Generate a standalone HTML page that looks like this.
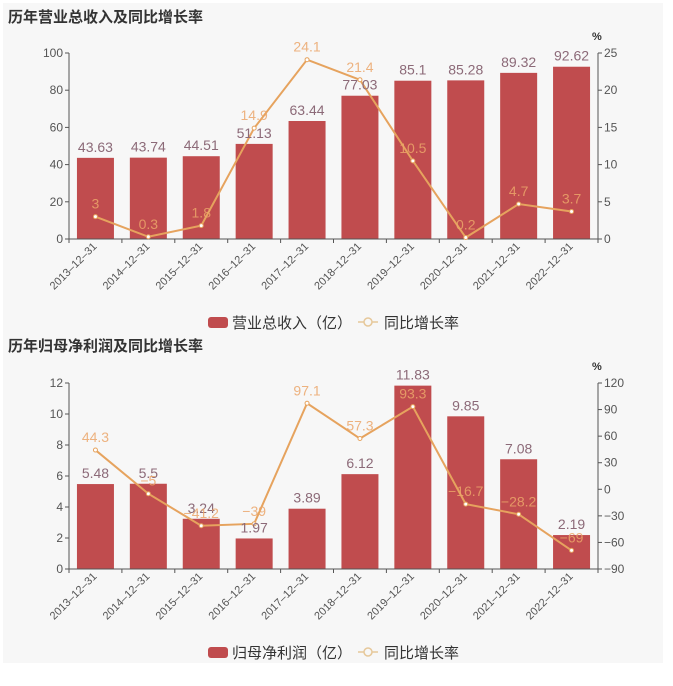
<!DOCTYPE html>
<html><head><meta charset="utf-8"><style>
html,body{margin:0;padding:0;background:#fff;width:673px;height:686px;overflow:hidden}
svg{display:block;font-family:"Liberation Sans","Noto Sans CJK SC",sans-serif}
</style></head><body>
<svg id="s" width="673" height="686" xmlns="http://www.w3.org/2000/svg">
<rect x="3" y="3" width="660" height="660" fill="#f7f7f7"/>
<text x="8" y="22" font-size="15" font-weight="bold" fill="#333">历年营业总收入及同比增长率</text>
<text x="8" y="351" font-size="15" font-weight="bold" fill="#333">历年归母净利润及同比增长率</text>
</svg>
<script>
var s=document.getElementById('s'),NS='http://www.w3.org/2000/svg';
function el(t,a,txt){var e=document.createElementNS(NS,t);for(var k in a)e.setAttribute(k,a[k]);if(txt!==undefined)e.textContent=txt;s.appendChild(e);return e;}
var cats=['2013-12-31','2014-12-31','2015-12-31','2016-12-31','2017-12-31','2018-12-31','2019-12-31','2020-12-31','2021-12-31','2022-12-31'];
var L=69,R=598,W=(R-L)/10;
function chart(o){
 var y0=o.y0,yt=o.yt,h=y0-yt;
 // bars
 o.bars.forEach(function(v,i){var cx=L+W*(i+.5),by=y0-(v-o.lmin)/(o.lmax-o.lmin)*h;
  el('rect',{x:cx-18.5,y:by,width:37,height:y0-by,fill:'#c04c4e'});});
 // axes
 el('line',{x1:L,y1:yt,x2:L,y2:y0,stroke:'#555'});
 el('line',{x1:R,y1:yt,x2:R,y2:y0,stroke:'#555'});
 el('line',{x1:L,y1:y0,x2:R,y2:y0,stroke:'#555'});
 o.lt.forEach(function(v){var y=y0-(v-o.lmin)/(o.lmax-o.lmin)*h;el('line',{x1:L-4,y1:y,x2:L,y2:y,stroke:'#555'});
  el('text',{x:L-6,y:y+4,'font-size':12,fill:'#555','text-anchor':'end'},v);});
 o.rt.forEach(function(v){var y=y0-(v-o.rmin)/(o.rmax-o.rmin)*h;el('line',{x1:R,y1:y,x2:R+4,y2:y,stroke:'#555'});
  el('text',{x:R+6,y:y+4,'font-size':12,fill:'#555'},String(v).replace('-','−'));});
 el('text',{x:R-6,y:yt-13,'font-size':11,fill:'#333','font-weight':'bold'},'%');
 for(var i=0;i<=10;i++){el('line',{x1:L+W*i,y1:y0,x2:L+W*i,y2:y0+4,stroke:'#555'});}
 cats.forEach(function(c,i){var cx=L+W*(i+.5)+2,y=y0+8;
  el('text',{x:cx,y:y,'font-size':11,fill:'#555','text-anchor':'end',transform:'rotate(-45 '+cx+' '+y+')'},c.replace(/-/g,'–'));});
 // line
 var pts=o.line.map(function(v,i){return [L+W*(i+.5),y0-(v-o.rmin)/(o.rmax-o.rmin)*h];});
 el('polyline',{points:pts.map(function(p){return p.join(',')}).join(' '),fill:'none',stroke:'#e6a35e','stroke-width':2});
 pts.forEach(function(p){el('circle',{cx:p[0],cy:p[1],r:2,fill:'#fff',stroke:'#e6a35e'});});
 o.bars.forEach(function(v,i){var cx=L+W*(i+.5),by=y0-(v-o.lmin)/(o.lmax-o.lmin)*h;
  el('text',{x:cx,y:by-6,'font-size':14,fill:'#8c6a78','text-anchor':'middle'},v);});
 pts.forEach(function(p,i){el('text',{x:p[0],y:p[1]-8,'font-size':14,fill:'#eba66a','fill-opacity':.85,'text-anchor':'middle'},String(o.line[i]).replace('-','−'));});
 // legend
 var ly=o.ly;
 el('rect',{x:208,y:ly-5,width:20,height:11,rx:3,fill:'#c04c4e'});
 el('text',{x:232,y:ly+6,'font-size':15,fill:'#333'},o.name);
 el('line',{x1:358,y1:ly,x2:378,y2:ly,stroke:'#e6c89a','stroke-width':1.5});
 el('circle',{cx:368,cy:ly,r:4,fill:'#f7f7f7',stroke:'#e6c89a','stroke-width':1.5});
 el('text',{x:384,y:ly+6,'font-size':15,fill:'#333'},'同比增长率');
}
chart({y0:239,yt:53,lmin:0,lmax:100,rmin:0,rmax:25,lt:[0,20,40,60,80,100],rt:[0,5,10,15,20,25],
 bars:[43.63,43.74,44.51,51.13,63.44,77.03,85.1,85.28,89.32,92.62],line:[3,0.3,1.8,14.9,24.1,21.4,10.5,0.2,4.7,3.7],ly:322,name:'营业总收入（亿）'});
chart({y0:569,yt:383,lmin:0,lmax:12,rmin:-90,rmax:120,lt:[0,2,4,6,8,10,12],rt:[-90,-60,-30,0,30,60,90,120],
 bars:[5.48,5.5,3.24,1.97,3.89,6.12,11.83,9.85,7.08,2.19],line:[44.3,-5,-41.2,-39,97.1,57.3,93.3,-16.7,-28.2,-69],ly:652,name:'归母净利润（亿）'});
</script>
</body></html>
